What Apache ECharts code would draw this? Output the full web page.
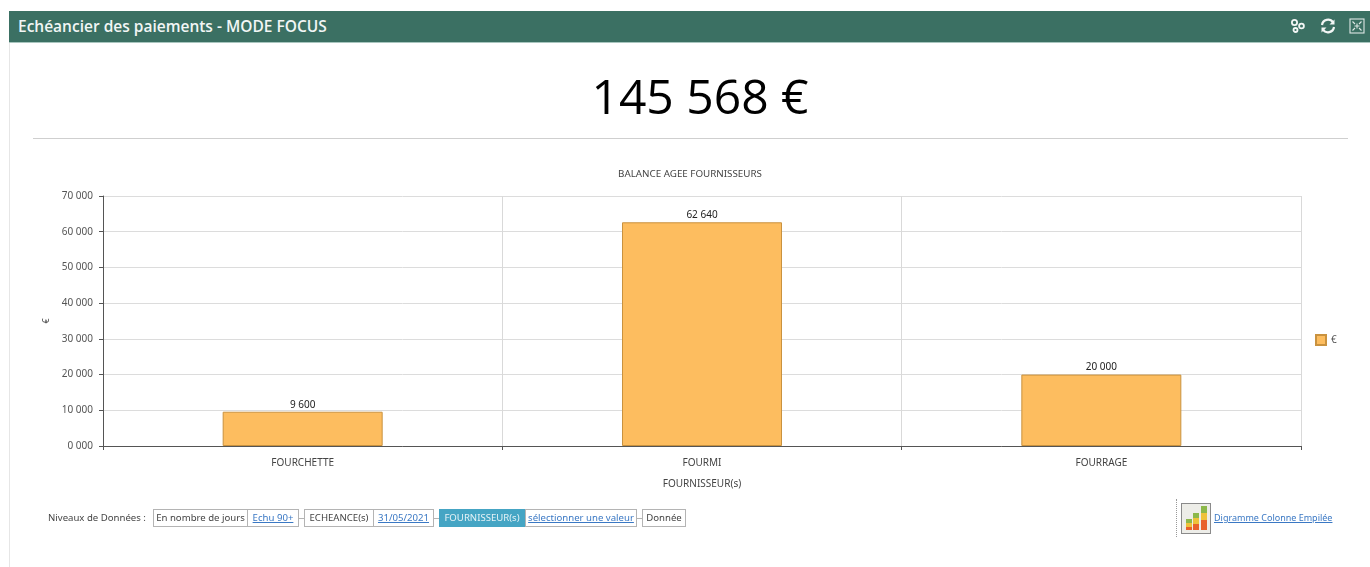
<!DOCTYPE html>
<html>
<head>
<meta charset="utf-8" />
<title>Echéancier des paiements</title>
<style type="text/css">
	html, body { margin: 0; padding: 0; background: #fff; }
	body { width: 1370px; height: 567px; position: relative; overflow: hidden; font-family: "Open Sans", sans-serif; }
	#chart { position: absolute; left: 0; top: 0; width: 1370px; height: 567px; }
	#head { position: absolute; left: 9px; top: 11px; width: 1361px; height: 31px; background: #3b7063; border-bottom: 1px solid #a9c6bf; color: #f2f6f5; font-size: 15.5px; font-weight: 600; line-height: 30px; text-indent: 9px; }
	#edge { position: absolute; left: 9px; top: 43px; width: 1px; height: 524px; background: #e6e6e6; }
	#total { position: absolute; left: 0; top: 61px; width: 1400px; text-align: center; font-size: 48px; line-height: 70px; color: #000; font-family: "Open Sans", sans-serif; }
	#rule { position: absolute; left: 33px; top: 138px; width: 1315px; height: 1px; background: #cfcfcf; }
	.icon { position: absolute; top: 18px; }
	#path { position: absolute; left: 0; top: 0; font: 9.6px "Noto Sans", sans-serif; color: #444; }
	#path span { position: absolute; white-space: nowrap; line-height: 18px; top: 509px; height: 18px; box-sizing: border-box; }
	#path .box { border: 1px solid #b4b4b4; text-align: center; line-height: 16px; background: #fff; }
	#path a { color: #3a78c4; text-decoration: underline; }
	#path .on { background: #45a5c4; color: #e6f3f7; border-color: #45a5c4; }
	#path .dash { height: 1px; width: 7px; top: 518px; background: #b4b4b4; }
	#sep { position: absolute; left: 1176px; top: 499px; height: 38px; border-left: 1px dotted #999; }
	#stack { position: absolute; left: 1181px; top: 503px; }
	#link { position: absolute; left: 1214px; top: 511px; font: 9px "Noto Sans", sans-serif; color: #3a78c4; text-decoration: underline; white-space: nowrap; }
</style>
</head>
<body>
	<div id="chart"></div>
	<div id="head">Echéancier des paiements - MODE FOCUS</div>
	<div id="edge"></div>
	<div id="total">145 568 €</div>
	<div id="rule"></div>

	<svg class="icon" style="left:1290px" width="16" height="16" viewBox="0 0 16 16" fill="none" stroke="#f2f6f5" stroke-width="1.8">
		<circle cx="4.5" cy="4.5" r="2.6"/><circle cx="11.5" cy="8" r="2.4"/><circle cx="5.5" cy="12" r="2"/>
	</svg>
	<svg class="icon" style="left:1320px" width="16" height="16" viewBox="0 0 16 16" fill="none" stroke="#f2f6f5" stroke-width="2.2">
		<path d="M2 7 A6 6 0 0 1 13 4.5"/><path d="M14 9 A6 6 0 0 1 3 11.5"/>
		<path d="M14.5 1.5 V6.5 H9.5" stroke-width="0" fill="#f2f6f5"/><path d="M1.5 14.5 V9.5 H6.5" stroke-width="0" fill="#f2f6f5"/>
	</svg>
	<svg class="icon" style="left:1349px" width="16" height="16" viewBox="0 0 16 16" fill="none" stroke="#dfe8e6" stroke-width="1.1">
		<rect x="1" y="1" width="14" height="14"/><path d="M3.5 3.5 L6 6 M12.5 3.5 L10 6 M3.5 12.5 L6 10 M12.5 12.5 L10 10 M5.5 8 H10.5 M8 5.5 V10.5"/>
	</svg>

	<div id="path">
		<span style="left:48px">Niveaux de Données :</span>
		<span class="box" style="left:153px;width:95px">En nombre de jours</span>
		<span class="box" style="left:247px;width:52px"><a>Echu 90+</a></span>
		<span class="dash" style="left:298px"></span>
		<span class="box" style="left:304px;width:70px">ECHEANCE(s)</span>
		<span class="box" style="left:373px;width:61px"><a>31/05/2021</a></span>
		<span class="dash" style="left:433px"></span>
		<span class="box on" style="left:439px;width:86px">FOURNISSEUR(s)</span>
		<span class="box" style="left:525px;width:112px"><a>sélectionner une valeur</a></span>
		<span class="dash" style="left:636px"></span>
		<span class="box" style="left:642px;width:44px">Donnée</span>
	</div>

	<div id="sep"></div>
	<svg id="stack" width="30" height="31" viewBox="0 0 30 31">
		<rect x="0.5" y="0.5" width="29" height="30" fill="#ededE8" stroke="#8a8a8a"/>
		<rect x="5" y="24" width="6" height="3" fill="#e8622c"/><rect x="5" y="20" width="6" height="4" fill="#eec23a"/><rect x="5" y="16" width="6" height="4" fill="#8cb84a"/>
		<rect x="12" y="21" width="6" height="6" fill="#e8622c"/><rect x="12" y="15" width="6" height="6" fill="#eec23a"/><rect x="12" y="10" width="6" height="5" fill="#8cb84a"/>
		<rect x="20" y="17" width="6" height="10" fill="#e8622c"/><rect x="20" y="10" width="6" height="7" fill="#eec23a"/><rect x="20" y="3" width="6" height="7" fill="#8cb84a"/>
	</svg>
	<a id="link">Digramme Colonne Empilée</a>

<script src="https://cdn.jsdelivr.net/npm/echarts@6/dist/echarts.min.js"></script>
<script>
	var fournisseurs = ['FOURCHETTE', 'FOURMI', 'FOURRAGE'];
	var montants = [9600, 62640, 20000];
	var serieName = '€';
	var chartFont = '"Noto Sans", sans-serif';

	// 9600 -> "9 600", 0 -> "0 000" comme sur l'original
	function fmt(n){
		var r = String(n % 1000);
		while(r.length < 3){ r = '0' + r; }
		return Math.floor(n / 1000) + ' ' + r;
	}

	var myChart = echarts.init(document.getElementById('chart'));
	var options = {
		animation: false,
		textStyle: { fontFamily: chartFont },
		title: {
			text: 'BALANCE AGEE FOURNISSEURS',
			left: 685,
			top: 164,
			textAlign: 'center',
			textStyle: { fontSize: 9.8, fontWeight: 'normal', color: '#444', fontFamily: chartFont }
		},
		legend: {
			data: [serieName],
			left: 1310,
			top: 329,
			icon: 'rect',
			itemWidth: 10,
			itemHeight: 10,
			itemGap: 4,
			textStyle: { fontSize: 10, color: '#555', fontFamily: chartFont }
		},
		grid: { left: 103, right: 69, top: 196, bottom: 121 },
		xAxis: {
			type: 'category',
			data: fournisseurs,
			name: 'FOURNISSEUR(s)',
			nameLocation: 'middle',
			nameGap: 33,
			nameTextStyle: { fontSize: 10, color: '#444', fontFamily: chartFont },
			axisLine: { lineStyle: { color: '#555', width: 1 } },
			axisTick: { show: true, length: 4, alignWithLabel: false, lineStyle: { color: '#555' } },
			axisLabel: { fontSize: 10, color: '#444', margin: 12, fontFamily: chartFont },
			splitLine: { show: true, lineStyle: { color: '#d9d9d9', width: 1 } }
		},
		yAxis: {
			type: 'value',
			min: 0,
			max: 70000,
			interval: 10000,
			name: serieName,
			nameLocation: 'middle',
			nameGap: 49,
			nameTextStyle: { fontSize: 9, color: '#444', fontFamily: chartFont },
			axisLine: { show: true, lineStyle: { color: '#555', width: 1 } },
			axisTick: { show: true, length: 4, lineStyle: { color: '#555' } },
			axisLabel: { fontSize: 10, color: '#555', margin: 10, fontFamily: chartFont, formatter: fmt },
			splitLine: { show: true, lineStyle: { color: '#dcdcdc', width: 1 } }
		},
		series: [
			{
				name: serieName,
				type: 'bar',
				data: montants,
				barWidth: 160,
				itemStyle: { color: '#fdbd5f', borderColor: '#c9923f', borderWidth: 1 },
				label: {
					show: true,
					position: 'top',
					distance: 2,
					fontSize: 10,
					color: '#222',
					fontFamily: chartFont,
					formatter: function(p){ return fmt(p.value); }
				}
			}
		]
	};
	myChart.setOption(options);
</script>
</body>
</html>
